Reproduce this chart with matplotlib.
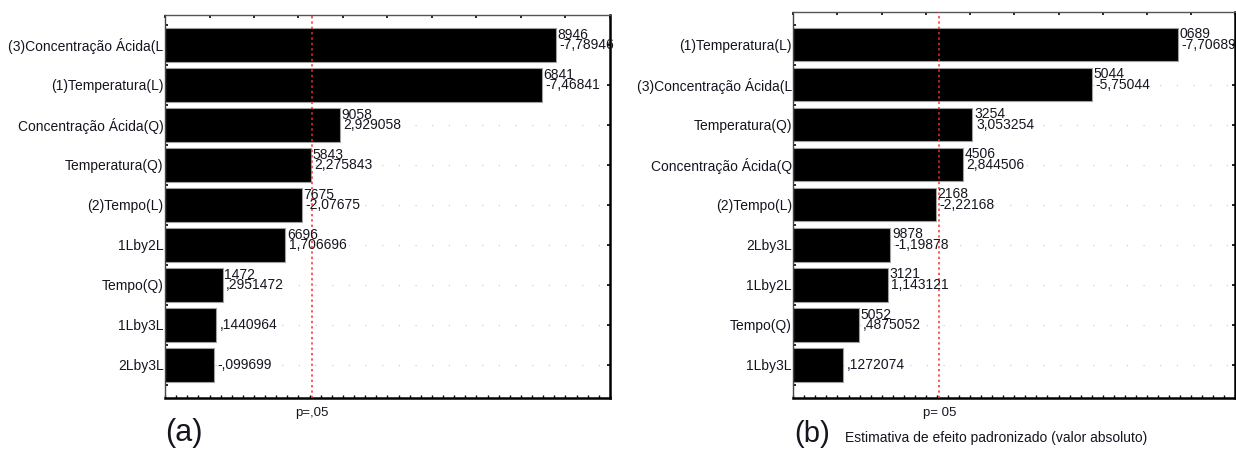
import numpy as np
import matplotlib.pyplot as plt
from matplotlib.ticker import MultipleLocator, FixedLocator

plt.rcParams['font.family'] = ['Liberation Sans', 'DejaVu Sans']

# %%
# Standardized effects (Pareto chart) for the two models
labels_a = ["(3)Concentração Ácida(L", "(1)Temperatura(L)", "Concentração Ácida(Q)",
            "Temperatura(Q)", "(2)Tempo(L)", "1Lby2L", "Tempo(Q)", "1Lby3L", "2Lby3L"]
effects_a = [-7.78946, -7.46841, 2.929058, 2.275843, -2.07675, 1.706696,
             0.2951472, 0.1440964, -0.099699]
# rows where the second (overprinted) value label shows up
overprint_a = [True, True, True, True, True, True, True, False, False]

labels_b = ["(1)Temperatura(L)", "(3)Concentração Ácida(L", "Temperatura(Q)",
            "Concentração Ácida(Q", "(2)Tempo(L)", "2Lby3L", "1Lby2L", "Tempo(Q)", "1Lby3L"]
effects_b = [-7.70689, -5.75044, 3.053254, 2.844506, -2.22168, -1.19878,
             1.143121, 0.4875052, 0.1272074]
overprint_b = [True, True, True, True, True, True, True, True, False]

t_crit = 2.306  # p = .05
x_range = (-1.0, 9.0)


def fmt(v):
    # Statistica style: decimal comma, no leading zero
    s = str(v).replace("0.", ".", 1) if abs(v) < 1 else str(v)
    return s.replace(".", ",")


def pareto(ax, labels, effects, overprint, p_label, y_top):
    n = len(labels)
    y = np.arange(n)
    x0 = x_range[0]
    widths = np.abs(effects) - x0
    ax.barh(y, widths, left=x0, height=0.83, color='black',
            edgecolor='#a0a0a0', linewidth=0.8, zorder=2)
    ax.axvline(t_crit, color='#ff2a2a', linestyle=(0, (1.5, 2.0)), lw=1.1, zorder=4)

    for yi, v, show in zip(y, effects, overprint):
        txt = fmt(v)
        ax.annotate(txt, (abs(v), yi), xytext=(2.5, 0), textcoords='offset points',
                    va='center', ha='left', fontsize=10, color='#151520', zorder=5)
        if show:
            ax.annotate(txt[-4:], (abs(v), yi), xytext=(1.2, 7.5), textcoords='offset points',
                        va='center', ha='left', fontsize=10, color='#151520', zorder=5)

    ax.set_xlim(*x_range)
    ax.set_ylim(n - 1 + 0.82, y_top)
    ax.set_yticks(y)
    ax.set_yticklabels(labels, fontsize=10, color='#151520')
    ax.yaxis.set_minor_locator(FixedLocator(np.arange(-0.5, n, 1.0)))
    ax.tick_params(axis='y', which='major', left=False, right=True, labelleft=True,
                   direction='in', length=2.5, width=1.2, pad=1)
    ax.tick_params(axis='y', which='minor', left=True, right=False,
                   direction='in', length=2.5, width=1.2)

    ax.xaxis.remove_overlapping_locs = False
    ax.xaxis.set_major_locator(MultipleLocator(1))
    ax.xaxis.set_minor_locator(FixedLocator(np.arange(x_range[0], x_range[1] + 0.01, 0.25)))
    ax.tick_params(axis='x', which='major', top=True, bottom=False, labelbottom=False,
                   direction='in', length=2.5, width=1.2)
    ax.tick_params(axis='x', which='minor', top=False, bottom=True,
                   direction='in', length=2, width=1.0)

    # faint dotted row guides
    ax.grid(axis='y', which='major', color='#c6c6c6', linestyle=(0, (1, 14)), lw=0.8)
    ax.set_axisbelow(True)

    ax.spines['top'].set_linewidth(1.0)
    ax.spines['top'].set_color('#555555')
    ax.spines['left'].set_linewidth(1.0)
    ax.spines['left'].set_color('#444444')
    ax.spines['bottom'].set_linewidth(1.8)
    ax.spines['right'].set_linewidth(1.8)

    ax.text(t_crit, -0.04, p_label, transform=ax.get_xaxis_transform(),
            ha='center', va='center', fontsize=9.5, color='#151520')


# %%
fig = plt.figure(figsize=(12.36, 4.53), dpi=100)
ax_a = fig.add_axes([0.1335, 0.122, 0.360, 0.845])
ax_b = fig.add_axes([0.6418, 0.122, 0.3577, 0.8514])

pareto(ax_a, labels_a, effects_a, overprint_a, "p=,05", -0.75)
pareto(ax_b, labels_b, effects_b, overprint_b, "p= 05", -0.82)

fig.text(0.1335, 0.045, "(a)", fontsize=22, ha='left', va='center', color='#151520')
fig.text(0.6424, 0.043, "(b)", fontsize=21, ha='left', va='center', color='#151520')
fig.text(0.6837, 0.033, "Estimativa de efeito padronizado (valor absoluto)",
         fontsize=10, ha='left', va='center', color='#151520')

fig.savefig("out.png", dpi=100)
